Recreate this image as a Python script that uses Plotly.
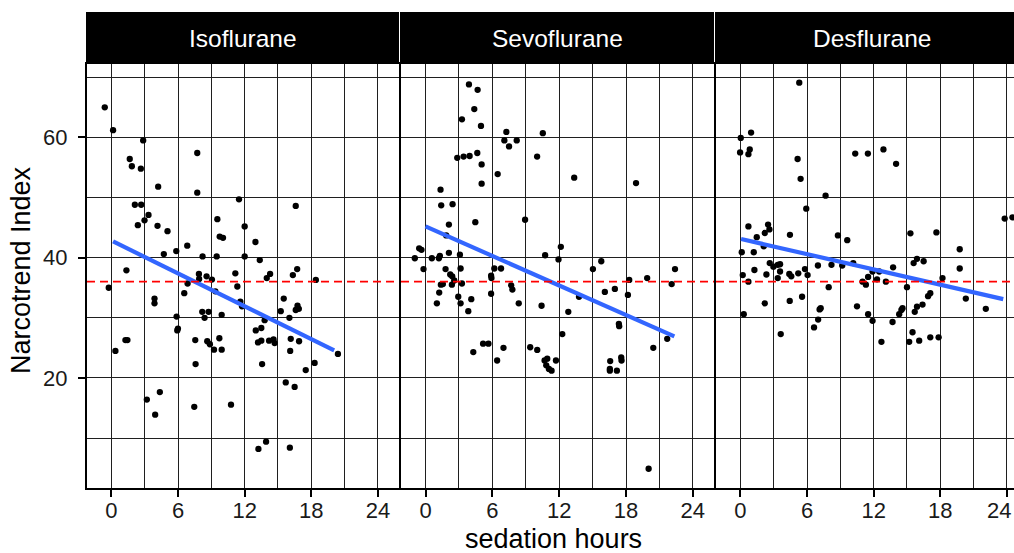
import plotly.graph_objects as go

# ---------------- data ----------------
panel_names = ["Isoflurane", "Sevoflurane", "Desflurane"]

iso_hours = [-0.6, 0.15, 2.86, 1.65, 1.84, 2.65, 7.73, 4.21, 7.73, 11.49, 16.6, 2.11, 2.68, 3.34,
             2.98, 2.38, 4.15, 5.05, 9.54, 12.0, 9.75, 10.05, 12.97, 6.83, 5.84, 4.72, 8.21, 9.48,
             12.0, 13.36, 1.35, 7.88, 8.57, 11.16, 13.99, 14.29, 16.34, 16.73, 18.41,
             7.9, 9.05, -0.24, 6.86, 9.36, 11.34, 6.56, 3.88, 3.88, 11.61, 11.76, 15.52, 16.76,
             16.88, 16.6, 15.25, 8.18, 8.75, 8.39, 9.93, 5.87, 16.03, 13.8, 13.0, 13.5, 5.93, 5.99,
             1.26, 1.44, 7.55, 8.63, 8.87, 9.72, 9.24, 9.93, 13.2, 13.5, 14.2, 14.6, 14.7, 16.15,
             16.9, 16.1, 0.36, 7.58, 13.57, 18.3, 17.5, 20.4, 15.7, 16.5, 3.19, 4.36, 3.94, 7.46,
             10.77, 13.24, 13.93, 16.07]
iso_index = [65.0, 61.2, 59.5, 56.4, 55.2, 54.8, 57.4, 51.8, 50.8, 49.7, 48.6, 48.8, 48.8, 47.1,
             46.2, 45.4, 45.3, 44.4, 46.4, 45.2, 43.5, 43.3, 42.6, 42.0, 41.1, 40.6, 40.2, 40.2,
             40.2, 39.6, 37.9, 37.3, 36.9, 37.4, 36.6, 37.3, 37.1, 38.1, 36.3,
             36.45, 36.35, 35.0, 35.7, 34.4, 35.2, 34.1, 33.2, 32.4, 32.7, 31.9, 33.2, 32.0,
             31.5, 31.3, 31.1, 31.0, 31.0, 30.0, 30.5, 30.2, 30.0, 29.6, 27.9, 28.3, 27.9, 28.2,
             26.3, 26.3, 26.3, 26.1, 25.6, 26.6, 24.7, 24.7, 25.9, 26.2, 26.2, 26.4, 25.8, 26.5,
             26.1, 24.5, 24.5, 22.3, 22.3, 22.5, 21.3, 24.0, 19.25, 18.5, 16.4, 17.65, 13.9, 15.2,
             15.55, 8.2, 9.4, 8.4]

sevo_hours = [3.9, 4.68, 4.38, 3.27, 4.98, 7.26, 10.53, 7.08, 8.19, 7.5, 2.85, 3.42, 3.96, 4.65,
              5.04, 10.02, 6.48, 5.04, 13.35, 18.9, 1.35, 1.41, 2.43, 4.47, 2.1, 8.94, 1.86, 12.15,
              -0.57, -0.36, -0.96, 0.57, 1.2, 1.29, 2.1, 3.09, 10.74, 11.94, 15.78, 15.03, -0.18,
              1.8, 3.15, 6.18, 6.78, 22.4,
              2.22, 2.4, 2.58, 5.89, 5.92, 1.56, 1.38, 2.37, 3.27, 1.23, 1.02, 2.94, 3.15, 4.11,
              3.84, 5.89, 7.69, 7.8, 8.37, 10.42, 12.82, 13.78, 16.1, 17.0, 18.29, 18.17, 19.9,
              22.1, 12.28, 17.36, 17.39, 21.7, 5.17, 5.65, 4.29, 7.0, 6.43, 9.4, 10.03, 10.69,
              10.93, 10.84, 11.08, 11.32, 11.71, 20.45, 16.58, 17.57, 17.6, 16.55, 16.55, 17.18,
              20.03]
sevo_index = [68.8, 67.9, 64.7, 63.0, 61.9, 60.9, 60.7, 59.5, 59.5, 58.5, 56.6, 56.8, 56.9, 57.4,
              55.5, 56.8, 53.9, 52.3, 53.3, 52.4, 51.3, 48.7, 48.9, 45.9, 45.5, 46.3, 43.7, 41.8,
              41.55, 41.3, 39.9, 39.9, 39.9, 40.3, 40.8, 40.5, 40.4, 39.7, 39.4, 38.1, 38.1,
              38.1, 38.2, 38.2, 38.2, 38.1,
              37.2, 36.9, 36.2, 37.0, 36.6, 35.6, 35.5, 35.5, 35.7, 34.2, 32.4, 33.5, 32.4, 33.1,
              31.1, 34.0, 35.4, 34.7, 32.4, 32.0, 31.0, 33.5, 34.3, 34.8, 36.3, 33.8, 36.6,
              35.6, 27.3, 29.0, 28.6, 26.5, 25.7, 25.7, 24.3, 25.0, 22.9, 25.1, 24.65, 22.9,
              23.2, 22.1, 21.5, 21.2, 22.9, 25.0, 22.8, 23.4, 22.9, 21.5, 21.2, 21.2,
              4.9]

des_hours = [5.3, 0.96, 0.03, -0.03, 0.84, 0.72, 5.15, 5.42, 10.34, 11.48, 12.88, 14.02, 7.67,
             5.93, 23.8, 24.5, 0.72, 2.49, 2.61, 2.19, 1.47, 4.46, 8.78, 9.62, 15.31, 17.65, 2.1,
             0.12, 1.2, 19.75, 2.64, 2.97, 3.36, 3.57, 2.34, 4.4, 4.58, 0.21, 1.26, 5.21, 5.81,
             6.05, 6.98, 8.2, 9.17, 10.16, 13.75, 15.6, 15.9, 16.5, 18.2, 19.75,
             0.72, 3.36, 3.57, 2.19, 4.44, 5.55, 7.95, 0.3, 3.63, 7.23, 7.13, 7.0, 6.63, 10.5,
             11.0, 11.3, 11.5, 11.9, 12.3, 12.5, 13.1, 11.5, 11.9, 12.7, 13.7, 14.3, 14.5, 14.6,
             15.0, 15.7, 15.9, 16.4, 16.9, 17.1, 15.5, 15.2, 16.1, 17.1, 17.85, 20.3, 22.1]
des_index = [69.1, 60.8, 59.9, 57.5, 58.0, 57.2, 56.4, 53.1, 57.3, 57.3, 58.0, 55.6, 50.3,
             48.15, 46.5, 46.7, 45.2, 45.5, 44.7, 44.1, 43.4, 43.8, 43.7, 42.9, 44.05, 44.2, 41.9,
             40.9, 40.9, 41.4, 39.1, 38.5, 38.8, 38.9, 37.2, 37.3, 36.9, 37.1, 37.95, 37.4, 38.1,
             37.1, 38.7, 38.8, 38.7, 39.1, 38.4, 39.1, 39.8, 39.4, 36.6, 38.2,
             36.0, 36.6, 37.7, 32.4, 32.8, 33.5, 35.1, 30.6, 27.3, 31.6, 31.4, 29.7, 28.4, 31.9,
             36.0, 35.5, 36.8, 37.7, 36.4, 37.7, 36.0, 30.6, 29.5, 26.0, 29.3, 30.6, 31.3, 31.6,
             35.1, 31.0, 31.85, 32.2, 33.6, 34.1, 27.6, 26.0, 26.2, 26.75, 26.75, 33.2, 31.5]

# linear-fit lines (end points)
iso_fit_hours = [0.15, 20.06]
iso_fit_index = [42.7, 24.6]
sevo_fit_hours = [0.0, 22.34]
sevo_fit_index = [45.2, 26.9]
des_fit_hours = [0.06, 23.67]
des_fit_index = [43.1, 33.1]

reference_index = 36.0

x_ticks = [0, 6, 12, 18, 24]
x_tick_labels = ["0", "6", "12", "18", "24"]
y_ticks = [20, 40, 60]

# ---------------- layout geometry ----------------
W, H = 1014, 553
ML, MR, MT, MB = 87, 0, 12, 65
PW, PH = W - ML - MR, H - MT - MB
panel_px = [(87, 399), (401, 714), (716, 1014)]
panel_full_right = 1027
x_ranges = [[-2.2, 25.9], [-2.2, 25.9], [-2.2, -2.2 + (1014 - 716) / ((399 - 87) / 28.1)]]
y_range = [1.7, 72.2]
strip_top_px, strip_bot_px = 12, 64
y_dom_top = (H - MB - strip_bot_px) / PH

FONT = "Liberation Sans, Arial, Helvetica, sans-serif"
GRID = "#1f1f1f"
TICK_FONT = dict(family=FONT, size=22, color="#1a1a1a")

hours = [iso_hours, sevo_hours, des_hours]
index = [iso_index, sevo_index, des_index]
fit_h = [iso_fit_hours, sevo_fit_hours, des_fit_hours]
fit_i = [iso_fit_index, sevo_fit_index, des_fit_index]

fig = go.Figure()
shapes = []
annotations = []

for k in range(3):
    sfx = "" if k == 0 else str(k + 1)
    xa, ya = "x" + sfx, "y" + sfx
    x0p, x1p = panel_px[k]
    dom = [(x0p - ML) / PW, (x1p - ML) / PW]

    fig.add_trace(go.Scatter(x=hours[k], y=index[k], mode="markers", xaxis=xa, yaxis=ya,
                             marker=dict(color="black", size=6.3, line=dict(width=0)),
                             showlegend=False, hoverinfo="skip"))
    fig.add_trace(go.Scatter(x=fit_h[k], y=fit_i[k], mode="lines", xaxis=xa, yaxis=ya,
                             line=dict(color="#3366FF", width=4.2),
                             showlegend=False, hoverinfo="skip"))

    # last panel is cut by the picture edge: its "24" label is kept inside as an annotation
    labels = list(x_tick_labels) if k < 2 else x_tick_labels[:-1] + [""]
    fig.update_layout(**{
        "xaxis" + sfx: dict(
            domain=dom, anchor=ya, range=x_ranges[k], tickvals=x_ticks, ticktext=labels,
            ticks="outside", ticklen=7, tickwidth=1.5, tickcolor="black",
            ticklabelstandoff=-5,
            tickfont=TICK_FONT,
            showgrid=True, gridcolor=GRID, gridwidth=1,
            minor=dict(tick0=0, dtick=3, showgrid=True, gridcolor=GRID, gridwidth=1, ticks=""),
            showline=True, linecolor="black", linewidth=2, mirror=True,
            zeroline=False, fixedrange=True),
        "yaxis" + sfx: dict(
            domain=[0, y_dom_top], anchor=xa, range=y_range, tickvals=y_ticks,
            ticks="outside" if k == 0 else "", ticklen=7, tickwidth=1.5, tickcolor="black",
            showticklabels=(k == 0), ticklabelstandoff=6,
            tickfont=TICK_FONT,
            showgrid=True, gridcolor=GRID, gridwidth=1,
            minor=dict(tick0=0, dtick=10, showgrid=True, gridcolor=GRID, gridwidth=1, ticks=""),
            showline=True, linecolor="black", linewidth=2, mirror=(k < 2),
            zeroline=False, fixedrange=True),
    })

    # red dashed reference line
    shapes.append(dict(type="line", xref=xa + " domain", yref=ya, x0=0, x1=1,
                       y0=reference_index, y1=reference_index,
                       line=dict(color="#FF0000", width=1.8, dash="8px,5px"), layer="above"))
    # strip
    shapes.append(dict(type="rect", xref="paper", yref="paper",
                       x0=dom[0] - 1.0 / PW, x1=dom[1],
                       y0=y_dom_top, y1=1, fillcolor="black", line=dict(width=0), layer="above"))
    right_full = x1p if k < 2 else panel_full_right
    annotations.append(dict(text=panel_names[k], xref="paper", yref="paper",
                            x=((x0p + right_full) / 2 - ML) / PW, y=(y_dom_top + 1) / 2,
                            xanchor="center", yanchor="middle", showarrow=False,
                            font=dict(family=FONT, size=24.5, color="white")))

annotations.append(dict(text=x_tick_labels[-1], xref="paper", yref="paper",
                        x=(1013 - ML) / PW, y=(H - MB - 510) / PH,
                        xanchor="right", yanchor="middle", showarrow=False,
                        font=TICK_FONT))
annotations.append(dict(text="Narcotrend Index", xref="paper", yref="paper",
                        x=(21 - ML) / PW, y=(H - MB - 270) / PH, textangle=-90,
                        xanchor="center", yanchor="middle", showarrow=False,
                        font=dict(family=FONT, size=27, color="black")))
annotations.append(dict(text="sedation hours", xref="paper", yref="paper",
                        x=(553 - ML) / PW, y=(H - MB - 539) / PH,
                        xanchor="center", yanchor="middle", showarrow=False,
                        font=dict(family=FONT, size=27, color="black")))

fig.update_layout(width=W, height=H, margin=dict(l=ML, r=MR, t=MT, b=MB, autoexpand=False),
                  paper_bgcolor="white", plot_bgcolor="white",
                  shapes=shapes, annotations=annotations, showlegend=False)

fig.write_html("out.html", config={"displayModeBar": False},
               post_script="document.body.style.margin='0px';")
